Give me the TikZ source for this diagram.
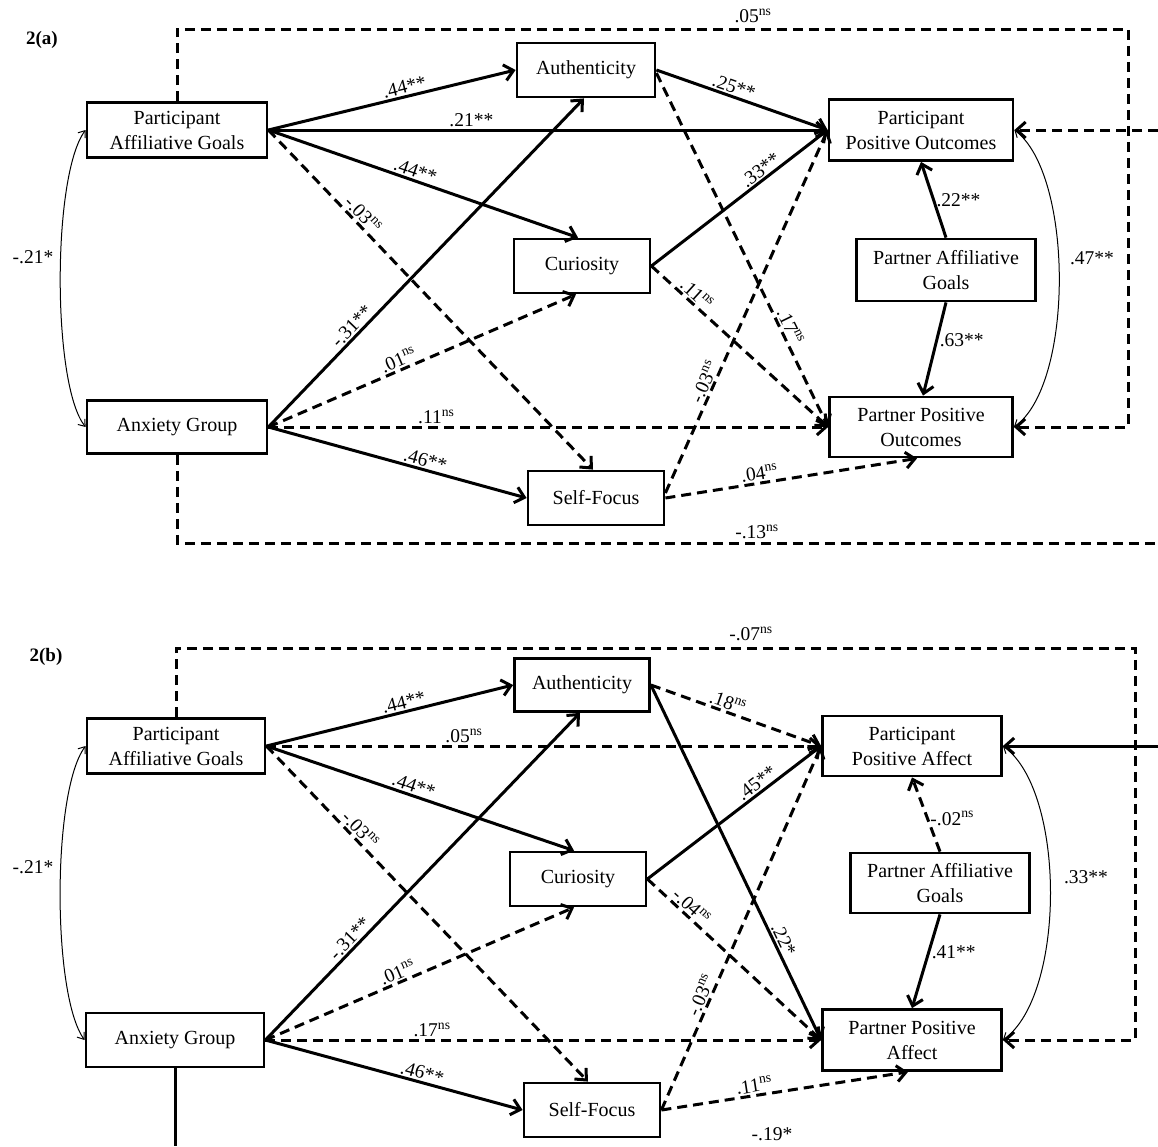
\documentclass[tikz,border=0pt]{standalone}
\usepackage{fontspec}
\setmainfont{Liberation Serif}
\usetikzlibrary{arrows.meta}
\newcommand\boxfont{\fontsize{20}{25}\selectfont}
\newcommand\labfont{\fontsize{19.5}{22}\selectfont}
\newcommand\nsx[1]{#1\textsuperscript{ns}}
\begin{document}
\begin{tikzpicture}[x=1pt,y=-1pt,
  box/.style={draw, line width=2.8pt, align=center, font=\boxfont, inner sep=0pt},
  sig/.style={line width=3pt, -{Straight Barb[length=9pt,width=16pt]}},
  nsig/.style={sig, dash pattern=on 10pt off 6pt},
  lab/.style={font=\labfont, inner sep=1.5pt},
  cov/.style={line width=1pt, {Straight Barb[length=6pt,width=9pt]}-{Straight Barb[length=6pt,width=9pt]}},
  title/.style={font=\fontsize{19}{22}\selectfont\bfseries}
]
\useasboundingbox (0,0) rectangle (1158,1146);
\fill[white] (0,0) rectangle (1158,1146);

% ---------------- panel (a)
\node[title] (ta) at (42,40) {2(a)};
\node[box, minimum width=180pt, minimum height=55pt] (pag) at (177,130) {Participant\\Affiliative Goals};
\node[box, minimum width=138pt, minimum height=54pt] (auth) at (586,70) {Authenticity};
\node[box, minimum width=136pt, minimum height=54pt] (cur) at (582,266) {Curiosity};
\node[box, minimum width=136pt, minimum height=54pt] (sf) at (596,498) {Self-Focus};
\node[box, minimum width=180pt, minimum height=53pt] (ag) at (177,427) {Anxiety Group};
\node[box, minimum width=184pt, minimum height=61pt] (ppo) at (921,130) {Participant\\Positive Outcomes};
\node[box, minimum width=179pt, minimum height=62pt] (pag2) at (946,270) {Partner Affiliative\\Goals};
\node[box, minimum width=183pt, minimum height=60pt] (pto) at (921,427) {Partner Positive\\Outcomes};
\coordinate (ar1) at (1158,130);
\coordinate (ar2) at (1158,543);

\draw[sig] (pag.east) -- node[lab,sloped,above,pos=0.56]{.44**} (auth.west);
\draw[sig] (pag.east) -- node[lab,above,pos=0.363]{.21**} (ppo.west);
\draw[sig] (pag.east) -- node[lab,sloped,above,pos=0.465]{.44**} ([xshift=-4pt]cur.north);
\draw[nsig] (pag.east) -- node[lab,sloped,above,pos=0.27]{\nsx{-.03}} ([xshift=-3pt]sf.north);
\draw[sig] (ag.east) -- node[lab,sloped,above,pos=0.286]{-.31**} ([xshift=-2pt]auth.south);
\draw[nsig] (ag.east) -- node[lab,sloped,above,pos=0.436]{\nsx{.01}} ([xshift=-6pt]cur.south);
\draw[nsig] (ag.east) -- node[lab,above,pos=0.30]{\nsx{.11}} (pto.west);
\draw[sig] (ag.east) -- node[lab,sloped,above,pos=0.598]{.46**} (sf.west);
\draw[sig] (auth.east) -- node[lab,sloped,above,pos=0.434]{.25**} (ppo.west);
\draw[nsig] ([yshift=-3pt]auth.east) -- node[lab,sloped,above,pos=0.729]{\nsx{.17}} (pto.west);
\draw[sig] (cur.east) -- node[lab,sloped,above,pos=0.652]{.33**} (ppo.west);
\draw[nsig] (cur.east) -- node[lab,sloped,above,pos=0.22]{\nsx{.11}} (pto.west);
\draw[nsig] ([yshift=5pt]sf.east) -- node[lab,sloped,above,pos=0.295]{\nsx{-.03}} (ppo.west);
\draw[nsig] (sf.east) -- node[lab,sloped,above,pos=0.38]{\nsx{.04}} ([xshift=-4pt]pto.south);
\draw[sig] (pag2.north) -- node[lab,right,pos=0.5]{.22**} (ppo.south);
\draw[sig] (pag2.south) -- node[lab,right,pos=0.4]{.63**} ([xshift=2pt]pto.north);

\draw[nsig] (pag.north) -- (177,29) -- (1128,29) -- (1128,427) -- (pto.east);
\node[lab] (l05) at (753,16) {\nsx{.05}};
\draw[nsig] (ar1) -- (ppo.east);
\draw[nsig,-] (ag.south) -- (177,543) -- (ar2);
\node[lab] (l13) at (757,532) {\nsx{-.13}};

\draw[cov] (pag.west) .. controls (52,175) and (52,385) .. (ag.west);
\node[lab] (l21) at (33,257) {-.21*};
\draw[cov] (ppo.east) .. controls (1074,175) and (1074,385) .. (pto.east);
\node[lab] (l47) at (1092,258) {.47**};

% ---------------- panel (b)
\node[title] (tb) at (46,657) {2(b)};
\node[box, minimum width=178pt, minimum height=55pt] (pagb) at (176,746) {Participant\\Affiliative Goals};
\node[box, minimum width=135pt, minimum height=53pt] (authb) at (582,685) {Authenticity};
\node[box, minimum width=136pt, minimum height=54pt] (curb) at (578,879) {Curiosity};
\node[box, minimum width=136pt, minimum height=54pt] (sfb) at (592,1110) {Self-Focus};
\node[box, minimum width=178pt, minimum height=54pt] (agb) at (175,1040) {Anxiety Group};
\node[box, minimum width=179pt, minimum height=60pt] (ppa) at (912,746) {Participant\\Positive Affect};
\node[box, minimum width=179pt, minimum height=60pt] (pag2b) at (940,883) {Partner Affiliative\\Goals};
\node[box, minimum width=179pt, minimum height=61pt] (ptpa) at (912,1040) {Partner Positive\\Affect};
\coordinate (br1) at (1158,746);
\coordinate (br2) at (175,1146);

\draw[sig] (pagb.east) -- node[lab,sloped,above,pos=0.566]{.44**} (authb.west);
\draw[nsig] (pagb.east) -- node[lab,above,pos=0.356]{\nsx{.05}} (ppa.west);
\draw[sig] (pagb.east) -- node[lab,sloped,above,pos=0.469]{.44**} ([xshift=-4pt]curb.north);
\draw[nsig] (pagb.east) -- node[lab,sloped,above,pos=0.27]{\nsx{-.03}} ([xshift=-4pt]sfb.north);
\draw[sig] (agb.east) -- node[lab,sloped,above,pos=0.29]{-.31**} ([xshift=-2pt]authb.south);
\draw[nsig] (agb.east) -- node[lab,sloped,above,pos=0.441]{\nsx{.01}} ([xshift=-4pt]curb.south);
\draw[nsig] (agb.east) -- node[lab,above,pos=0.30]{\nsx{.17}} (ptpa.west);
\draw[sig] (agb.east) -- node[lab,sloped,above,pos=0.60]{.46**} (sfb.west);
\draw[nsig] (authb.east) -- node[lab,sloped,above,pos=0.433]{\nsx{.18}} (ppa.west);
\draw[sig] (authb.east) -- node[lab,sloped,above,pos=0.729]{.22*} (ptpa.west);
\draw[sig] (curb.east) -- node[lab,sloped,above,pos=0.662]{.45**} (ppa.west);
\draw[nsig] (curb.east) -- node[lab,sloped,above,pos=0.216]{\nsx{-.04}} (ptpa.west);
\draw[nsig] (sfb.east) -- node[lab,sloped,above,pos=0.304]{\nsx{-.03}} (ppa.west);
\draw[nsig] (sfb.east) -- node[lab,sloped,above,pos=0.383]{\nsx{.11}} ([xshift=-4pt]ptpa.south);
\draw[nsig] (pag2b.north) -- node[lab,right,pos=0.45]{\nsx{-.02}} (ppa.south);
\draw[sig] (pag2b.south) -- node[lab,right,pos=0.4]{.41**} (ptpa.north);

\draw[nsig] (pagb.north) -- (176,648) -- (1135,648) -- (1135,1040) -- (ptpa.east);
\node[lab] (l07) at (751,634) {\nsx{-.07}};
\draw[sig] (br1) -- (ppa.east);
\draw[line width=3pt] (agb.south) -- (br2);
\node[lab] (l19) at (772,1134) {-.19*};

\draw[cov] (pagb.west) .. controls (52,791) and (52,995) .. (agb.west);
\node[lab] (l21b) at (33,867) {-.21*};
\draw[cov] (ppa.east) .. controls (1066,791) and (1066,995) .. (ptpa.east);
\node[lab] (l33) at (1086,877) {.33**};
\end{tikzpicture}
\end{document}
